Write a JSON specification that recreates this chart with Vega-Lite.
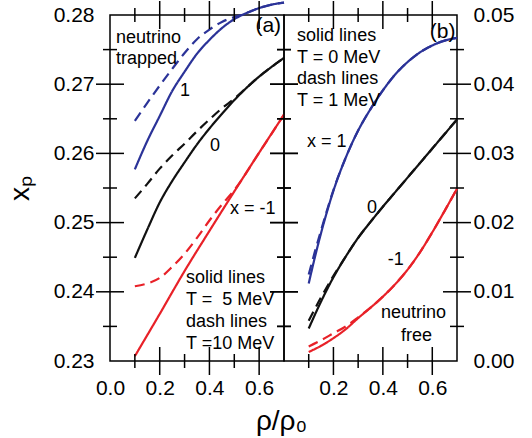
{
  "$schema": "https://vega.github.io/schema/vega-lite/v6.json",
  "padding": {"left": 5, "top": -3, "right": 5, "bottom": 0},
  "bounds": "flush",
  "spacing": 0,
  "config": {
    "view": {"stroke": "black", "strokeWidth": 1.5},
    "axis": {"labelFont": "Liberation Sans", "labelFontSize": 21, "labelColor": "black", "titleFont": "Liberation Sans", "titleFontSize": 28, "titleFontWeight": "normal", "titleColor": "black", "domain": false, "ticks": false, "grid": false, "labelFlush": false, "labelOverlap": false},
    "text": {"font": "Liberation Sans", "fontSize": 18, "align": "left", "baseline": "middle", "color": "black"},
    "line": {"interpolate": "monotone", "strokeWidth": 2.2, "clip": true},
    "tick": {"thickness": 1.5, "color": "black", "clip": true, "opacity": 1}
  },
  "datasets": {
    "a": [
      {"s":"1","d":"solid","r":0.10,"xp":0.2577},{"s":"1","d":"solid","r":0.15,"xp":0.2618},{"s":"1","d":"solid","r":0.20,"xp":0.2654},{"s":"1","d":"solid","r":0.25,"xp":0.2690},{"s":"1","d":"solid","r":0.30,"xp":0.2718},{"s":"1","d":"solid","r":0.35,"xp":0.2744},{"s":"1","d":"solid","r":0.40,"xp":0.2764},{"s":"1","d":"solid","r":0.45,"xp":0.2781},{"s":"1","d":"solid","r":0.50,"xp":0.2794},{"s":"1","d":"solid","r":0.55,"xp":0.2803},{"s":"1","d":"solid","r":0.60,"xp":0.2810},{"s":"1","d":"solid","r":0.65,"xp":0.2815},{"s":"1","d":"solid","r":0.70,"xp":0.2818},
      {"s":"1","d":"dash","r":0.10,"xp":0.2647},{"s":"1","d":"dash","r":0.15,"xp":0.2673},{"s":"1","d":"dash","r":0.20,"xp":0.2698},{"s":"1","d":"dash","r":0.25,"xp":0.2722},{"s":"1","d":"dash","r":0.30,"xp":0.2745},{"s":"1","d":"dash","r":0.35,"xp":0.2765},{"s":"1","d":"dash","r":0.40,"xp":0.2779},{"s":"1","d":"dash","r":0.45,"xp":0.2790},{"s":"1","d":"dash","r":0.50,"xp":0.2797},{"s":"1","d":"dash","r":0.55,"xp":0.2803},{"s":"1","d":"dash","r":0.60,"xp":0.2810},{"s":"1","d":"dash","r":0.65,"xp":0.2815},{"s":"1","d":"dash","r":0.70,"xp":0.2818},
      {"s":"0","d":"solid","r":0.10,"xp":0.2449},{"s":"0","d":"solid","r":0.15,"xp":0.2490},{"s":"0","d":"solid","r":0.20,"xp":0.2529},{"s":"0","d":"solid","r":0.25,"xp":0.2560},{"s":"0","d":"solid","r":0.30,"xp":0.2587},{"s":"0","d":"solid","r":0.35,"xp":0.2613},{"s":"0","d":"solid","r":0.40,"xp":0.2636},{"s":"0","d":"solid","r":0.45,"xp":0.2657},{"s":"0","d":"solid","r":0.50,"xp":0.2677},{"s":"0","d":"solid","r":0.55,"xp":0.2695},{"s":"0","d":"solid","r":0.60,"xp":0.2711},{"s":"0","d":"solid","r":0.65,"xp":0.2725},{"s":"0","d":"solid","r":0.70,"xp":0.2738},
      {"s":"0","d":"dash","r":0.10,"xp":0.2535},{"s":"0","d":"dash","r":0.15,"xp":0.2556},{"s":"0","d":"dash","r":0.20,"xp":0.2578},{"s":"0","d":"dash","r":0.25,"xp":0.2597},{"s":"0","d":"dash","r":0.30,"xp":0.2614},{"s":"0","d":"dash","r":0.35,"xp":0.2632},{"s":"0","d":"dash","r":0.40,"xp":0.2649},{"s":"0","d":"dash","r":0.45,"xp":0.2665},{"s":"0","d":"dash","r":0.50,"xp":0.2679},{"s":"0","d":"dash","r":0.55,"xp":0.2695},{"s":"0","d":"dash","r":0.60,"xp":0.2711},{"s":"0","d":"dash","r":0.65,"xp":0.2725},{"s":"0","d":"dash","r":0.70,"xp":0.2738},
      {"s":"-1","d":"solid","r":0.10,"xp":0.2307},{"s":"-1","d":"solid","r":0.20,"xp":0.2368},{"s":"-1","d":"solid","r":0.30,"xp":0.2430},{"s":"-1","d":"solid","r":0.40,"xp":0.2488},{"s":"-1","d":"solid","r":0.50,"xp":0.2545},{"s":"-1","d":"solid","r":0.60,"xp":0.2601},{"s":"-1","d":"solid","r":0.70,"xp":0.2656},
      {"s":"-1","d":"dash","r":0.10,"xp":0.2408},{"s":"-1","d":"dash","r":0.15,"xp":0.2412},{"s":"-1","d":"dash","r":0.20,"xp":0.2420},{"s":"-1","d":"dash","r":0.25,"xp":0.2436},{"s":"-1","d":"dash","r":0.30,"xp":0.2455},{"s":"-1","d":"dash","r":0.35,"xp":0.2478},{"s":"-1","d":"dash","r":0.40,"xp":0.2503},{"s":"-1","d":"dash","r":0.45,"xp":0.2526},{"s":"-1","d":"dash","r":0.50,"xp":0.2547},{"s":"-1","d":"dash","r":0.60,"xp":0.2601},{"s":"-1","d":"dash","r":0.70,"xp":0.2656}
    ],
    "b": [
      {"s":"1","d":"solid","r":0.10,"xp":0.0112},{"s":"1","d":"solid","r":0.125,"xp":0.0150},{"s":"1","d":"solid","r":0.15,"xp":0.0185},{"s":"1","d":"solid","r":0.175,"xp":0.0217},{"s":"1","d":"solid","r":0.20,"xp":0.0246},{"s":"1","d":"solid","r":0.25,"xp":0.0294},{"s":"1","d":"solid","r":0.30,"xp":0.0333},{"s":"1","d":"solid","r":0.35,"xp":0.0364},{"s":"1","d":"solid","r":0.40,"xp":0.0391},{"s":"1","d":"solid","r":0.45,"xp":0.0414},{"s":"1","d":"solid","r":0.50,"xp":0.0432},{"s":"1","d":"solid","r":0.55,"xp":0.0446},{"s":"1","d":"solid","r":0.60,"xp":0.0456},{"s":"1","d":"solid","r":0.65,"xp":0.0463},{"s":"1","d":"solid","r":0.70,"xp":0.0467},
      {"s":"1","d":"dash","r":0.10,"xp":0.0125},{"s":"1","d":"dash","r":0.125,"xp":0.0158},{"s":"1","d":"dash","r":0.15,"xp":0.0189},{"s":"1","d":"dash","r":0.175,"xp":0.0219},{"s":"1","d":"dash","r":0.20,"xp":0.0247},{"s":"1","d":"dash","r":0.25,"xp":0.0294},{"s":"1","d":"dash","r":0.30,"xp":0.0333},{"s":"1","d":"dash","r":0.35,"xp":0.0364},{"s":"1","d":"dash","r":0.40,"xp":0.0391},{"s":"1","d":"dash","r":0.45,"xp":0.0414},{"s":"1","d":"dash","r":0.50,"xp":0.0432},{"s":"1","d":"dash","r":0.55,"xp":0.0446},{"s":"1","d":"dash","r":0.60,"xp":0.0456},{"s":"1","d":"dash","r":0.65,"xp":0.0463},{"s":"1","d":"dash","r":0.70,"xp":0.0467},
      {"s":"0","d":"solid","r":0.10,"xp":0.0047},{"s":"0","d":"solid","r":0.15,"xp":0.0086},{"s":"0","d":"solid","r":0.20,"xp":0.0121},{"s":"0","d":"solid","r":0.25,"xp":0.0151},{"s":"0","d":"solid","r":0.30,"xp":0.0178},{"s":"0","d":"solid","r":0.35,"xp":0.0201},{"s":"0","d":"solid","r":0.40,"xp":0.0223},{"s":"0","d":"solid","r":0.45,"xp":0.0244},{"s":"0","d":"solid","r":0.50,"xp":0.0265},{"s":"0","d":"solid","r":0.55,"xp":0.0286},{"s":"0","d":"solid","r":0.60,"xp":0.0307},{"s":"0","d":"solid","r":0.65,"xp":0.0328},{"s":"0","d":"solid","r":0.70,"xp":0.0349},
      {"s":"0","d":"dash","r":0.10,"xp":0.0058},{"s":"0","d":"dash","r":0.15,"xp":0.0092},{"s":"0","d":"dash","r":0.20,"xp":0.0123},{"s":"0","d":"dash","r":0.25,"xp":0.0151},{"s":"0","d":"dash","r":0.30,"xp":0.0178},{"s":"0","d":"dash","r":0.35,"xp":0.0201},{"s":"0","d":"dash","r":0.40,"xp":0.0223},{"s":"0","d":"dash","r":0.45,"xp":0.0244},{"s":"0","d":"dash","r":0.50,"xp":0.0265},{"s":"0","d":"dash","r":0.55,"xp":0.0286},{"s":"0","d":"dash","r":0.60,"xp":0.0307},{"s":"0","d":"dash","r":0.65,"xp":0.0328},{"s":"0","d":"dash","r":0.70,"xp":0.0349},
      {"s":"-1","d":"solid","r":0.10,"xp":0.0013},{"s":"-1","d":"solid","r":0.15,"xp":0.0022},{"s":"-1","d":"solid","r":0.20,"xp":0.0033},{"s":"-1","d":"solid","r":0.25,"xp":0.0046},{"s":"-1","d":"solid","r":0.30,"xp":0.0062},{"s":"-1","d":"solid","r":0.35,"xp":0.0077},{"s":"-1","d":"solid","r":0.40,"xp":0.0093},{"s":"-1","d":"solid","r":0.45,"xp":0.0111},{"s":"-1","d":"solid","r":0.50,"xp":0.0132},{"s":"-1","d":"solid","r":0.55,"xp":0.0157},{"s":"-1","d":"solid","r":0.60,"xp":0.0186},{"s":"-1","d":"solid","r":0.65,"xp":0.0217},{"s":"-1","d":"solid","r":0.70,"xp":0.0249},
      {"s":"-1","d":"dash","r":0.10,"xp":0.0021},{"s":"-1","d":"dash","r":0.15,"xp":0.0030},{"s":"-1","d":"dash","r":0.20,"xp":0.0040},{"s":"-1","d":"dash","r":0.25,"xp":0.0050},{"s":"-1","d":"dash","r":0.30,"xp":0.0063},{"s":"-1","d":"dash","r":0.35,"xp":0.0077},{"s":"-1","d":"dash","r":0.40,"xp":0.0093},{"s":"-1","d":"dash","r":0.45,"xp":0.0111},{"s":"-1","d":"dash","r":0.50,"xp":0.0132},{"s":"-1","d":"dash","r":0.55,"xp":0.0157},{"s":"-1","d":"dash","r":0.60,"xp":0.0186},{"s":"-1","d":"dash","r":0.65,"xp":0.0217},{"s":"-1","d":"dash","r":0.70,"xp":0.0249}
    ],
    "tx": [{"v":0.1,"m":"m"},{"v":0.2,"m":"M"},{"v":0.3,"m":"m"},{"v":0.4,"m":"M"},{"v":0.5,"m":"m"},{"v":0.6,"m":"M"}],
    "tya": [{"v":0.235,"m":"m"},{"v":0.24,"m":"M"},{"v":0.245,"m":"m"},{"v":0.25,"m":"M"},{"v":0.255,"m":"m"},{"v":0.26,"m":"M"},{"v":0.265,"m":"m"},{"v":0.27,"m":"M"},{"v":0.275,"m":"m"}],
    "tyb": [{"v":0.005,"m":"m"},{"v":0.01,"m":"M"},{"v":0.015,"m":"m"},{"v":0.02,"m":"M"},{"v":0.025,"m":"m"},{"v":0.03,"m":"M"},{"v":0.035,"m":"m"},{"v":0.04,"m":"M"},{"v":0.045,"m":"m"}],
    "labA": [
      {"r":0.024,"xp":0.2767,"t":"neutrino"},{"r":0.024,"xp":0.2736,"t":"trapped"},{"r":0.282,"xp":0.2690,"t":"1"},{"r":0.402,"xp":0.2611,"t":"0"},{"r":0.483,"xp":0.2520,"t":"x = -1"},
      {"r":0.306,"xp":0.2420,"t":"solid lines"},{"r":0.306,"xp":0.2388,"t":"T = \u00a05 MeV"},{"r":0.306,"xp":0.2356,"t":"dash lines"},{"r":0.306,"xp":0.2325,"t":"T =10 MeV"}
    ],
    "labB": [
      {"r":0.053,"xp":0.0470,"t":"solid lines"},{"r":0.053,"xp":0.0438,"t":"T = 0 MeV"},{"r":0.053,"xp":0.0408,"t":"dash lines"},{"r":0.053,"xp":0.0376,"t":"T = 1 MeV"},
      {"r":0.093,"xp":0.0316,"t":"x = 1"},{"r":0.336,"xp":0.0221,"t":"0"},{"r":0.420,"xp":0.0146,"t":"-1"},{"r":0.392,"xp":0.0069,"t":"neutrino"},{"r":0.473,"xp":0.0036,"t":"free"}
    ],
    "tagA": [{"r":0.585,"xp":0.2784,"t":"(a)"}],
    "tagB": [{"r":0.590,"xp":0.0475,"t":"(b)"}]
  },
  "hconcat": [
    {
      "width": 174, "height": 346,
      "resolve": {"axis": {"x": "independent", "y": "independent"}},
      "layer": [
        {
          "data": {"name": "a"},
          "mark": {"type": "line"},
          "encoding": {
            "x": {"field": "r", "type": "quantitative", "scale": {"domain": [0, 0.7], "nice": false}, "axis": {"orient": "bottom", "values": [0, 0.2, 0.4, 0.6], "format": ".1f", "labelPadding": 16, "title": "\u03c1/\u03c1\u2080", "titleX": 171, "titleAlign": "center", "titleAnchor": "start", "titlePadding": 9}},
            "y": {"field": "xp", "type": "quantitative", "scale": {"domain": [0.23, 0.28], "nice": false, "zero": false}, "axis": {"orient": "left", "values": [0.23, 0.24, 0.25, 0.26, 0.27, 0.28], "format": ".2f", "labelPadding": 16, "title": "x\u209a", "titlePadding": 19}},
            "color": {"field": "s", "type": "nominal", "scale": {"domain": ["1", "0", "-1"], "range": ["#2b3398", "#111111", "#e82128"]}, "legend": null},
            "strokeDash": {"field": "d", "type": "nominal", "scale": {"domain": ["solid", "dash"], "range": [[1, 0], [10, 6]]}, "legend": null}
          }
        },
        {
          "data": {"name": "tx"},
          "mark": {"type": "tick", "orient": "vertical"},
          "encoding": {
            "x": {"field": "v", "type": "quantitative", "scale": {"domain": [0, 0.7], "nice": false}, "axis": null},
            "y": {"datum": 0.23, "type": "quantitative", "scale": {"domain": [0.23, 0.28], "nice": false, "zero": false}, "axis": null},
            "size": {"field": "m", "type": "ordinal", "scale": {"domain": ["M", "m"], "range": [28, 14]}, "legend": null}
          }
        },
        {
          "data": {"name": "tx"},
          "mark": {"type": "tick", "orient": "vertical"},
          "encoding": {
            "x": {"field": "v", "type": "quantitative", "scale": {"domain": [0, 0.7], "nice": false}, "axis": null},
            "y": {"datum": 0.28, "type": "quantitative", "scale": {"domain": [0.23, 0.28], "nice": false, "zero": false}, "axis": null},
            "size": {"field": "m", "type": "ordinal", "scale": {"domain": ["M", "m"], "range": [28, 14]}, "legend": null}
          }
        },
        {
          "data": {"name": "tya"},
          "mark": {"type": "tick", "orient": "horizontal"},
          "encoding": {
            "x": {"datum": 0, "type": "quantitative", "scale": {"domain": [0, 0.7], "nice": false}, "axis": null},
            "y": {"field": "v", "type": "quantitative", "scale": {"domain": [0.23, 0.28], "nice": false, "zero": false}, "axis": null},
            "size": {"field": "m", "type": "ordinal", "scale": {"domain": ["M", "m"], "range": [28, 14]}, "legend": null}
          }
        },
        {
          "data": {"name": "tya"},
          "mark": {"type": "tick", "orient": "horizontal"},
          "encoding": {
            "x": {"datum": 0.7, "type": "quantitative", "scale": {"domain": [0, 0.7], "nice": false}, "axis": null},
            "y": {"field": "v", "type": "quantitative", "scale": {"domain": [0.23, 0.28], "nice": false, "zero": false}, "axis": null},
            "size": {"field": "m", "type": "ordinal", "scale": {"domain": ["M", "m"], "range": [28, 14]}, "legend": null}
          }
        },
        {
          "data": {"name": "labA"},
          "mark": {"type": "text"},
          "encoding": {
            "x": {"field": "r", "type": "quantitative", "scale": {"domain": [0, 0.7], "nice": false}, "axis": null},
            "y": {"field": "xp", "type": "quantitative", "scale": {"domain": [0.23, 0.28], "nice": false, "zero": false}, "axis": null},
            "text": {"field": "t"}
          }
        },
        {
          "data": {"name": "tagA"},
          "mark": {"type": "text", "fontSize": 21},
          "encoding": {
            "x": {"field": "r", "type": "quantitative", "scale": {"domain": [0, 0.7], "nice": false}, "axis": null},
            "y": {"field": "xp", "type": "quantitative", "scale": {"domain": [0.23, 0.28], "nice": false, "zero": false}, "axis": null},
            "text": {"field": "t"}
          }
        }
      ]
    },
    {
      "width": 173, "height": 346,
      "resolve": {"axis": {"x": "independent", "y": "independent"}},
      "layer": [
        {
          "data": {"name": "b"},
          "mark": {"type": "line"},
          "encoding": {
            "x": {"field": "r", "type": "quantitative", "scale": {"domain": [0, 0.7], "nice": false}, "axis": {"orient": "bottom", "values": [0.2, 0.4, 0.6], "format": ".1f", "labelPadding": 16, "title": null}},
            "y": {"field": "xp", "type": "quantitative", "scale": {"domain": [0, 0.05], "nice": false, "zero": false}, "axis": {"orient": "right", "values": [0, 0.01, 0.02, 0.03, 0.04, 0.05], "format": ".2f", "labelPadding": 16, "title": null}},
            "color": {"field": "s", "type": "nominal", "scale": {"domain": ["1", "0", "-1"], "range": ["#2b3398", "#111111", "#e82128"]}, "legend": null},
            "strokeDash": {"field": "d", "type": "nominal", "scale": {"domain": ["solid", "dash"], "range": [[1, 0], [10, 6]]}, "legend": null}
          }
        },
        {
          "data": {"name": "tx"},
          "mark": {"type": "tick", "orient": "vertical"},
          "encoding": {
            "x": {"field": "v", "type": "quantitative", "scale": {"domain": [0, 0.7], "nice": false}, "axis": null},
            "y": {"datum": 0, "type": "quantitative", "scale": {"domain": [0, 0.05], "nice": false, "zero": false}, "axis": null},
            "size": {"field": "m", "type": "ordinal", "scale": {"domain": ["M", "m"], "range": [28, 14]}, "legend": null}
          }
        },
        {
          "data": {"name": "tx"},
          "mark": {"type": "tick", "orient": "vertical"},
          "encoding": {
            "x": {"field": "v", "type": "quantitative", "scale": {"domain": [0, 0.7], "nice": false}, "axis": null},
            "y": {"datum": 0.05, "type": "quantitative", "scale": {"domain": [0, 0.05], "nice": false, "zero": false}, "axis": null},
            "size": {"field": "m", "type": "ordinal", "scale": {"domain": ["M", "m"], "range": [28, 14]}, "legend": null}
          }
        },
        {
          "data": {"name": "tyb"},
          "mark": {"type": "tick", "orient": "horizontal"},
          "encoding": {
            "x": {"datum": 0, "type": "quantitative", "scale": {"domain": [0, 0.7], "nice": false}, "axis": null},
            "y": {"field": "v", "type": "quantitative", "scale": {"domain": [0, 0.05], "nice": false, "zero": false}, "axis": null},
            "size": {"field": "m", "type": "ordinal", "scale": {"domain": ["M", "m"], "range": [28, 14]}, "legend": null}
          }
        },
        {
          "data": {"name": "tyb"},
          "mark": {"type": "tick", "orient": "horizontal"},
          "encoding": {
            "x": {"datum": 0.7, "type": "quantitative", "scale": {"domain": [0, 0.7], "nice": false}, "axis": null},
            "y": {"field": "v", "type": "quantitative", "scale": {"domain": [0, 0.05], "nice": false, "zero": false}, "axis": null},
            "size": {"field": "m", "type": "ordinal", "scale": {"domain": ["M", "m"], "range": [28, 14]}, "legend": null}
          }
        },
        {
          "data": {"name": "labB"},
          "mark": {"type": "text"},
          "encoding": {
            "x": {"field": "r", "type": "quantitative", "scale": {"domain": [0, 0.7], "nice": false}, "axis": null},
            "y": {"field": "xp", "type": "quantitative", "scale": {"domain": [0, 0.05], "nice": false, "zero": false}, "axis": null},
            "text": {"field": "t"}
          }
        },
        {
          "data": {"name": "tagB"},
          "mark": {"type": "text", "fontSize": 21},
          "encoding": {
            "x": {"field": "r", "type": "quantitative", "scale": {"domain": [0, 0.7], "nice": false}, "axis": null},
            "y": {"field": "xp", "type": "quantitative", "scale": {"domain": [0, 0.05], "nice": false, "zero": false}, "axis": null},
            "text": {"field": "t"}
          }
        }
      ]
    }
  ]
}
